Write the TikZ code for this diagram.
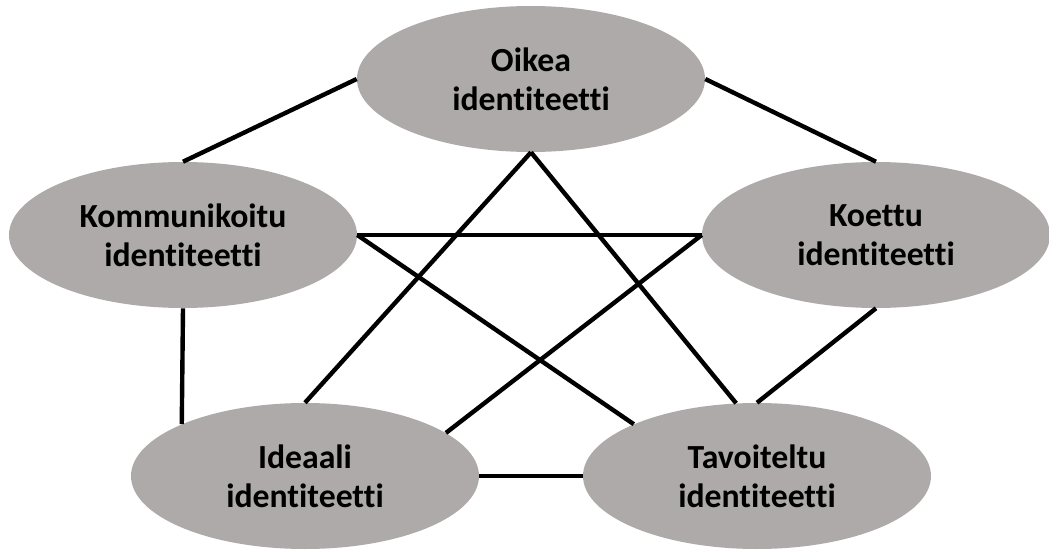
\documentclass[tikz,border=0pt]{standalone}
\usepackage{fontspec}
\setmainfont[Ligatures=NoCommon]{Carlito}
\usetikzlibrary{shapes.geometric}

\tikzset{
	identita/.style={ellipse, fill=harmaa, minimum width=8.7cm, minimum height=3.65cm,
		inner sep=0pt, align=center, font=\fontsize{24}{28}\selectfont\bfseries},
	yhteys/.style={line width=0.11cm, black}
}
\definecolor{harmaa}{HTML}{AEAAAA}

\begin{document}
\begin{tikzpicture}
	\useasboundingbox (0,0) rectangle (26.225,13.725);

	% identiteetit
	\node[identita] (oikea) at (13.275,11.75) {Oikea\\identiteetti};
	\node[identita] (kommunikoitu) at (4.575,7.85) {Kommunikoitu\\identiteetti};
	\node[identita] (koettu) at (21.9,7.85) {Koettu\\identiteetti};
	\node[identita] (ideaali) at (7.625,1.825) {Ideaali\\identiteetti};
	\node[identita] (tavoiteltu) at (18.925,1.825) {Tavoiteltu\\identiteetti};

	% yhteydet
	\draw[yhteys] (oikea.west) -- (kommunikoitu.north);
	\draw[yhteys] (oikea.east) -- (koettu.north);
	\draw[yhteys] (oikea.south) -- (ideaali.north);
	\draw[yhteys] (oikea.south) -- (tavoiteltu.106);
	\draw[yhteys] (kommunikoitu.east) -- (koettu.west);
	\draw[yhteys] (kommunikoitu.east) -- (tavoiteltu.north west);
	\draw[yhteys] (kommunikoitu.south) -- (ideaali.north west);
	\draw[yhteys] (koettu.west) -- (ideaali.17);
	\draw[yhteys] (koettu.south) -- (tavoiteltu.north);
	\draw[yhteys] (ideaali.east) -- (tavoiteltu.west);

\end{tikzpicture}
\end{document}
